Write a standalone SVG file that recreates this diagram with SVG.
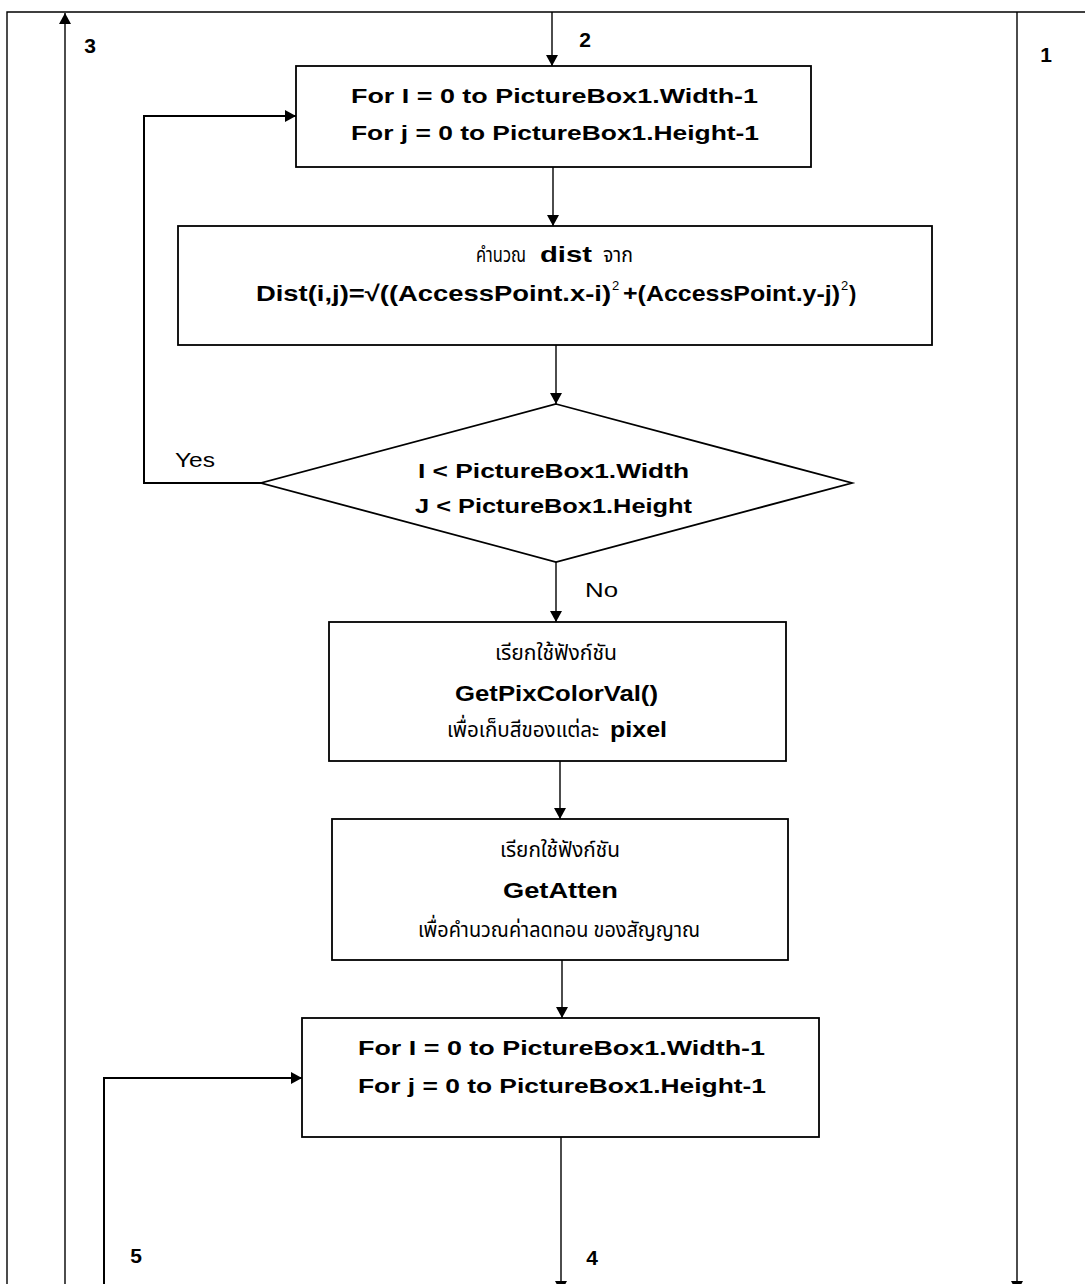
<svg xmlns="http://www.w3.org/2000/svg" width="1085" height="1284" viewBox="0 0 1085 1284">
<style>
.box{fill:#fff;stroke:#000;stroke-width:1.8}
.ln{fill:none;stroke:#000;stroke-width:1.4}
.lnb{fill:none;stroke:#000;stroke-width:2}
.t{font-family:"Liberation Sans","Noto Sans",sans-serif;font-weight:bold;font-size:21px;fill:#000}
.f{font-family:"Liberation Sans","Noto Sans",sans-serif;font-weight:bold;font-size:22px;fill:#000}
.sup{font-family:"Liberation Sans","Noto Sans",sans-serif;font-size:13px;fill:#000}
.th{font-family:"Noto Sans Thai","Tlwg Typo","Loma","Garuda","Noto Sans","DejaVu Sans",sans-serif;font-size:22px;fill:#000}
.lab{font-family:"Liberation Sans","Noto Sans",sans-serif;font-weight:bold;font-size:21px;fill:#000}
.yn{font-family:"Liberation Sans","Noto Sans",sans-serif;font-size:21px;fill:#000}
</style>
<defs>
<marker id="ah" markerUnits="userSpaceOnUse" markerWidth="12" markerHeight="12" refX="11" refY="6" orient="auto">
<path d="M0,0 L11,6 L0,12 z" fill="#000"/>
</marker>
</defs>
<rect width="1085" height="1284" fill="#fff"/>

<g id="connectors">
<path class="ln" d="M7,1284 L7,12 L1085,12"/>
<path class="ln" d="M65,1284 L65,13" marker-end="url(#ah)"/>
<path class="ln" d="M552,12 L552,66" marker-end="url(#ah)"/>
<path class="ln" d="M1017,12 L1017,1292" marker-end="url(#ah)"/>
<path class="ln" d="M553,167 L553,226" marker-end="url(#ah)"/>
<path class="ln" d="M556,345 L556,404" marker-end="url(#ah)"/>
<path class="ln" d="M556,562 L556,622" marker-end="url(#ah)"/>
<path class="ln" d="M560,761 L560,819" marker-end="url(#ah)"/>
<path class="ln" d="M562,960 L562,1018" marker-end="url(#ah)"/>
<path class="ln" d="M561,1137 L561,1292" marker-end="url(#ah)"/>
<path class="lnb" d="M261,483 L144,483 L144,116 L296,116" marker-end="url(#ah)"/>
<path class="lnb" d="M104,1284 L104,1078 L302,1078" marker-end="url(#ah)"/>
<text class="lab" x="90" y="53" text-anchor="middle">3</text>
<text class="lab" x="585" y="47" text-anchor="middle">2</text>
<text class="lab" x="1046" y="62" text-anchor="middle">1</text>
<text class="lab" x="136" y="1263" text-anchor="middle">5</text>
<text class="lab" x="592" y="1265" text-anchor="middle">4</text>
<text class="yn" x="175" y="467" textLength="40" lengthAdjust="spacingAndGlyphs">Yes</text>
<text class="yn" x="585" y="597" textLength="33" lengthAdjust="spacingAndGlyphs">No</text>
</g>

<g id="loop1">
<rect class="box" x="296" y="66" width="515" height="101"/>
<text class="t" x="351" y="103" textLength="407" lengthAdjust="spacingAndGlyphs">For I = 0 to PictureBox1.Width-1</text>
<text class="t" x="351" y="140" textLength="408" lengthAdjust="spacingAndGlyphs">For j = 0 to PictureBox1.Height-1</text>
</g>

<g id="calcdist">
<rect class="box" x="178" y="226" width="754" height="119"/>
<text class="th" x="476" y="262" textLength="50" lengthAdjust="spacingAndGlyphs">คำนวณ</text>
<text class="f" x="540" y="262" textLength="52" lengthAdjust="spacingAndGlyphs">dist</text>
<text class="th" x="603" y="262" textLength="30" lengthAdjust="spacingAndGlyphs">จาก</text>
<text class="f" x="256" y="301" textLength="355" lengthAdjust="spacingAndGlyphs">Dist(i,j)=√((AccessPoint.x-i)</text>
<text class="sup" x="612" y="290">2</text>
<text class="f" x="623" y="301" textLength="217" lengthAdjust="spacingAndGlyphs">+(AccessPoint.y-j)</text>
<text class="sup" x="841" y="290">2</text>
<text class="f" x="849" y="301">)</text>
</g>

<g id="decision">
<polygon class="box" points="556,404 852,483 556,562 261,483"/>
<text class="t" x="418" y="478" textLength="271" lengthAdjust="spacingAndGlyphs">I &lt; PictureBox1.Width</text>
<text class="t" x="415" y="513" textLength="277" lengthAdjust="spacingAndGlyphs">J &lt; PictureBox1.Height</text>
</g>

<g id="getpixcolor">
<rect class="box" x="329" y="622" width="457" height="139"/>
<text class="th" x="495" y="660" textLength="122" lengthAdjust="spacingAndGlyphs">เรียกใช้ฟังก์ชัน</text>
<text class="f" x="455" y="701" textLength="203" lengthAdjust="spacingAndGlyphs">GetPixColorVal()</text>
<text class="th" x="447" y="737" textLength="152" lengthAdjust="spacingAndGlyphs">เพื่อเก็บสีของแต่ละ</text>
<text class="f" x="610" y="737" textLength="57" lengthAdjust="spacingAndGlyphs">pixel</text>
</g>

<g id="getatten">
<rect class="box" x="332" y="819" width="456" height="141"/>
<text class="th" x="500" y="857" textLength="120" lengthAdjust="spacingAndGlyphs">เรียกใช้ฟังก์ชัน</text>
<text class="f" x="503" y="898" textLength="115" lengthAdjust="spacingAndGlyphs">GetAtten</text>
<text class="th" x="418" y="937" textLength="282" lengthAdjust="spacingAndGlyphs">เพื่อคำนวณค่าลดทอน ของสัญญาณ</text>
</g>

<g id="loop2">
<rect class="box" x="302" y="1018" width="517" height="119"/>
<text class="t" x="358" y="1055" textLength="407" lengthAdjust="spacingAndGlyphs">For I = 0 to PictureBox1.Width-1</text>
<text class="t" x="358" y="1093" textLength="408" lengthAdjust="spacingAndGlyphs">For j = 0 to PictureBox1.Height-1</text>
</g>
</svg>
